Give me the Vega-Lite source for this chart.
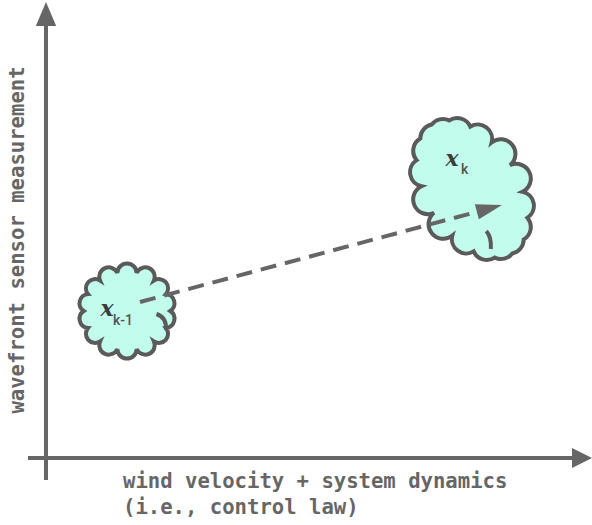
{
  "$schema": "https://vega.github.io/schema/vega-lite/v6.json",
  "autosize": {"type": "fit", "contains": "padding"},
  "width": 592,
  "height": 525,
  "padding": 0,
  "background": "white",
  "config": {"view": {"stroke": null}},
  "datasets": {
    "lines": [
      {"kind": "axis", "x": 46, "x2": 46, "y": 480, "y2": 22},
      {"kind": "axis", "x": 28, "x2": 575, "y": 458, "y2": 458},
      {"kind": "transition", "x": 140, "x2": 480, "y": 302, "y2": 211}
    ],
    "heads": [
      {"kind": "up", "x": 46, "y": 14},
      {"kind": "right", "x": 582, "y": 458},
      {"kind": "transition", "x": 489.4, "y": 208.4}
    ],
    "clouds": [
      {"state": "k-1", "x": 127, "y": 311},
      {"state": "k", "x": 472, "y": 189}
    ],
    "curls": [
      {"state": "k-1", "x": 162, "y": 322},
      {"state": "k", "x": 489, "y": 240}
    ],
    "texts": [
      {"role": "var", "x": 107, "y": 309, "text": "x"},
      {"role": "sub", "x": 113, "y": 321, "text": "k-1"},
      {"role": "var", "x": 452, "y": 159, "text": "x"},
      {"role": "sub", "x": 461, "y": 170, "text": "k"},
      {"role": "xlabel", "x": 123, "y": 482, "text": "wind velocity + system dynamics"},
      {"role": "xlabel", "x": 123, "y": 508, "text": "(i.e., control law)"},
      {"role": "ylabel", "x": 18, "y": 240, "text": "wavefront sensor measurement"}
    ]
  },
  "encoding": {
    "x": {"field": "x", "type": "quantitative", "scale": {"domain": [0, 592], "nice": false, "zero": false}, "axis": null},
    "y": {"field": "y", "type": "quantitative", "scale": {"domain": [0, 525], "nice": false, "zero": false, "reverse": true}, "axis": null}
  },
  "layer": [
    {
      "data": {"name": "lines"},
      "transform": [{"filter": "datum.kind == 'axis'"}],
      "mark": {"type": "rule", "color": "#666666", "strokeWidth": 4},
      "encoding": {"x2": {"field": "x2"}, "y2": {"field": "y2"}}
    },
    {
      "data": {"name": "heads"},
      "transform": [{"filter": "datum.kind == 'up'"}],
      "mark": {"type": "point", "shape": "M 0 -1 L 0.85 1 L -0.85 1 Z", "size": 576, "filled": true, "fill": "#666666", "strokeWidth": 0, "opacity": 1}
    },
    {
      "data": {"name": "heads"},
      "transform": [{"filter": "datum.kind == 'right'"}],
      "mark": {"type": "point", "shape": "M 1 0 L -1 1 L -1 -1 Z", "size": 400, "filled": true, "fill": "#666666", "strokeWidth": 0, "opacity": 1}
    },
    {
      "data": {"name": "clouds"},
      "transform": [{"filter": "datum.state == 'k-1'"}],
      "mark": {"type": "point", "shape": "M 0.8 0 A 0.17 0.17 0 0 1 0.721 0.312 A 0.17 0.17 0 0 1 0.498 0.563 A 0.17 0.17 0 0 1 0.178 0.702 A 0.17 0.17 0 0 1 -0.178 0.702 A 0.17 0.17 0 0 1 -0.498 0.563 A 0.17 0.17 0 0 1 -0.721 0.312 A 0.17 0.17 0 0 1 -0.8 0 A 0.17 0.17 0 0 1 -0.721 -0.312 A 0.17 0.17 0 0 1 -0.498 -0.563 A 0.17 0.17 0 0 1 -0.178 -0.702 A 0.17 0.17 0 0 1 0.178 -0.702 A 0.17 0.17 0 0 1 0.498 -0.563 A 0.17 0.17 0 0 1 0.721 -0.312 A 0.17 0.17 0 0 1 0.8 0 Z", "size": 11700, "filled": true, "fill": "#c2fcec", "stroke": "#5a5a5a", "strokeWidth": 4, "opacity": 1}
    },
    {
      "data": {"name": "curls"},
      "transform": [{"filter": "datum.state == 'k-1'"}],
      "mark": {"type": "point", "shape": "M -0.7 -1 Q 0.6 -0.6 0.5 1", "size": 256, "filled": false, "fill": null, "stroke": "#5a5a5a", "strokeWidth": 4, "opacity": 1}
    },
    {
      "data": {"name": "clouds"},
      "transform": [{"filter": "datum.state == 'k'"}],
      "mark": {"type": "point", "angle": 328, "shape": "M 0.5 0 A 0.16 0.16 0 0 1 0.462 0.325 A 0.16 0.16 0 0 1 0.354 0.601 A 0.16 0.16 0 0 1 0.191 0.785 A 0.16 0.16 0 0 1 0 0.85 A 0.16 0.16 0 0 1 -0.191 0.785 A 0.16 0.16 0 0 1 -0.354 0.601 A 0.16 0.16 0 0 1 -0.462 0.325 A 0.16 0.16 0 0 1 -0.5 0 A 0.16 0.16 0 0 1 -0.462 -0.325 A 0.16 0.16 0 0 1 -0.354 -0.601 A 0.16 0.16 0 0 1 -0.191 -0.785 A 0.16 0.16 0 0 1 0 -0.85 A 0.16 0.16 0 0 1 0.191 -0.785 A 0.16 0.16 0 0 1 0.354 -0.601 A 0.16 0.16 0 0 1 0.462 -0.325 A 0.16 0.16 0 0 1 0.5 0 Z", "size": 32000, "filled": true, "fill": "#c2fcec", "stroke": "#5a5a5a", "strokeWidth": 4, "opacity": 1}
    },
    {
      "data": {"name": "curls"},
      "transform": [{"filter": "datum.state == 'k'"}],
      "mark": {"type": "point", "shape": "M -0.3 -1 Q 0.3 -0.3 0.2 1", "size": 324, "filled": false, "fill": null, "stroke": "#5a5a5a", "strokeWidth": 4, "opacity": 1}
    },
    {
      "data": {"name": "lines"},
      "transform": [{"filter": "datum.kind == 'transition'"}],
      "mark": {"type": "rule", "color": "#666666", "strokeWidth": 4, "strokeDash": [16, 9]},
      "encoding": {"x2": {"field": "x2"}, "y2": {"field": "y2"}}
    },
    {
      "data": {"name": "heads"},
      "transform": [{"filter": "datum.kind == 'transition'"}],
      "mark": {"type": "point", "angle": 345, "shape": "M 1 0 L -1 0.6 L -1 -0.6 Z", "size": 676, "filled": true, "fill": "#666666", "strokeWidth": 0, "opacity": 1}
    },
    {
      "data": {"name": "texts"},
      "transform": [{"filter": "datum.role == 'var'"}],
      "mark": {"type": "text", "font": "DejaVu Serif", "fontStyle": "italic", "fontWeight": "bold", "fontSize": 22, "color": "#3c3c3c", "align": "center", "baseline": "middle"},
      "encoding": {"text": {"field": "text"}}
    },
    {
      "data": {"name": "texts"},
      "transform": [{"filter": "datum.role == 'sub'"}],
      "mark": {"type": "text", "font": "Roboto", "fontWeight": 500, "fontSize": 14, "color": "#555555", "align": "left", "baseline": "middle"},
      "encoding": {"text": {"field": "text"}}
    },
    {
      "data": {"name": "texts"},
      "transform": [{"filter": "datum.role == 'xlabel'"}],
      "mark": {"type": "text", "font": "DejaVu Sans Mono", "fontWeight": "bold", "fontSize": 20.6, "color": "#666666", "align": "left", "baseline": "middle"},
      "encoding": {"text": {"field": "text"}}
    },
    {
      "data": {"name": "texts"},
      "transform": [{"filter": "datum.role == 'ylabel'"}],
      "mark": {"type": "text", "font": "DejaVu Sans Mono", "fontWeight": "bold", "fontSize": 20.6, "color": "#666666", "align": "center", "baseline": "middle", "angle": 270},
      "encoding": {"text": {"field": "text"}}
    }
  ]
}
